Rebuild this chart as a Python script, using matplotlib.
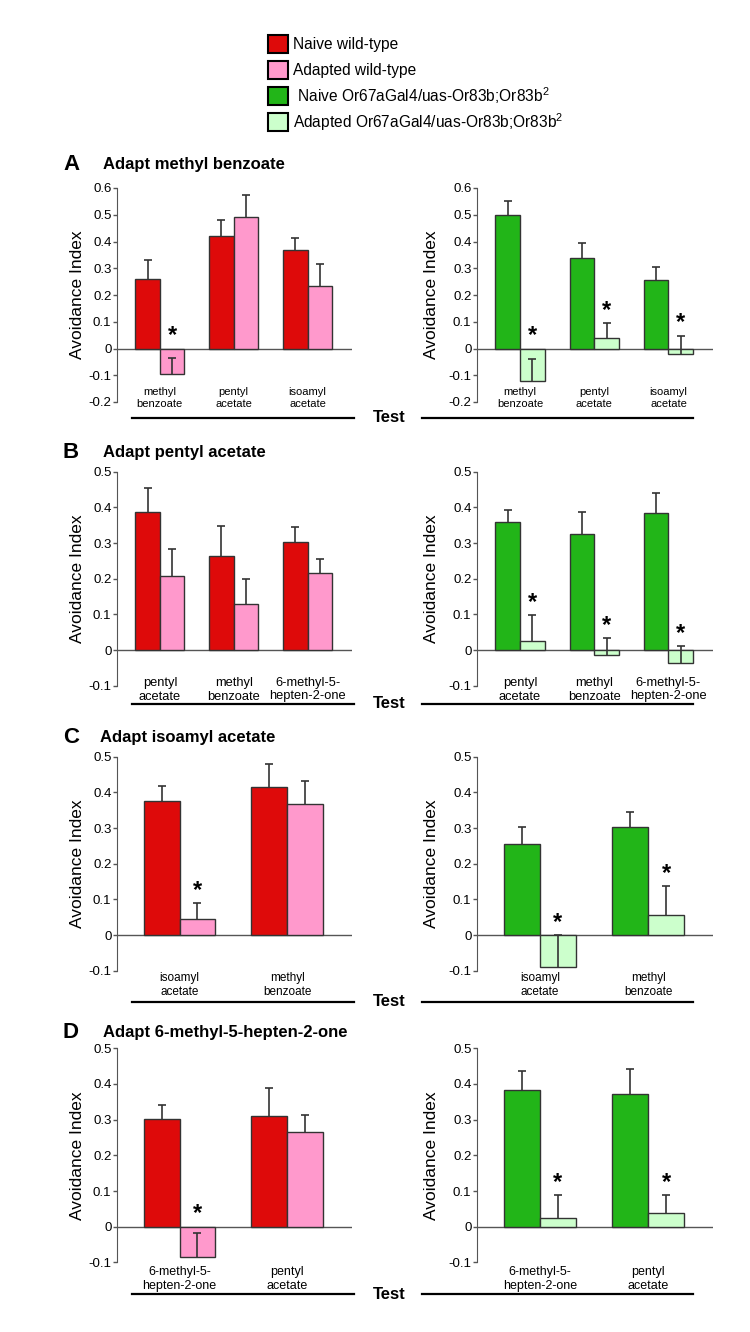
import matplotlib
matplotlib.use('Agg')
import matplotlib.pyplot as plt
from matplotlib.patches import Rectangle
import numpy as np

plt.rcParams['font.family'] = ['Liberation Sans', 'DejaVu Sans']
plt.rcParams['mathtext.fontset'] = 'custom'
plt.rcParams['mathtext.rm'] = 'Liberation Sans'
plt.rcParams['axes.unicode_minus'] = False

# ---- data (avoidance index, mean and upper SEM) ----
titles = ['Adapt methyl benzoate', 'Adapt pentyl acetate',
          'Adapt isoamyl acetate', 'Adapt 6-methyl-5-hepten-2-one']
letters = ['A', 'B', 'C', 'D']

tests_A = ['methyl\nbenzoate', 'pentyl\nacetate', 'isoamyl\nacetate']
wt_naive_A = [0.26, 0.42, 0.37]
wt_naive_err_A = [0.07, 0.06, 0.042]
wt_adapt_A = [-0.095, 0.49, 0.235]
wt_adapt_err_A = [0.06, 0.085, 0.08]
mut_naive_A = [0.50, 0.34, 0.255]
mut_naive_err_A = [0.05, 0.055, 0.05]
mut_adapt_A = [-0.12, 0.038, -0.02]
mut_adapt_err_A = [0.082, 0.056, 0.068]
stars_wt_A = [True, False, False]
stars_mut_A = [True, True, True]

tests_B = ['pentyl\nacetate', 'methyl\nbenzoate', '6-methyl-5-\nhepten-2-one']
wt_naive_B = [0.388, 0.265, 0.302]
wt_naive_err_B = [0.067, 0.082, 0.042]
wt_adapt_B = [0.207, 0.128, 0.215]
wt_adapt_err_B = [0.076, 0.072, 0.04]
mut_naive_B = [0.36, 0.324, 0.385]
mut_naive_err_B = [0.032, 0.063, 0.054]
mut_adapt_B = [0.024, -0.014, -0.035]
mut_adapt_err_B = [0.074, 0.048, 0.045]
stars_wt_B = [False, False, False]
stars_mut_B = [True, True, True]

tests_C = ['isoamyl\nacetate', 'methyl\nbenzoate']
wt_naive_C = [0.376, 0.416]
wt_naive_err_C = [0.042, 0.063]
wt_adapt_C = [0.044, 0.366]
wt_adapt_err_C = [0.046, 0.066]
mut_naive_C = [0.254, 0.304]
mut_naive_err_C = [0.05, 0.041]
mut_adapt_C = [-0.09, 0.056]
mut_adapt_err_C = [0.09, 0.081]
stars_wt_C = [True, False]
stars_mut_C = [True, True]

tests_D = ['6-methyl-5-\nhepten-2-one', 'pentyl\nacetate']
wt_naive_D = [0.303, 0.31]
wt_naive_err_D = [0.039, 0.078]
wt_adapt_D = [-0.085, 0.265]
wt_adapt_err_D = [0.066, 0.049]
mut_naive_D = [0.383, 0.372]
mut_naive_err_D = [0.054, 0.071]
mut_adapt_D = [0.025, 0.039]
mut_adapt_err_D = [0.064, 0.05]
stars_wt_D = [True, False]
stars_mut_D = [True, True]

ylims = [(-0.2, 0.6), (-0.1, 0.5), (-0.1, 0.5), (-0.1, 0.5)]

legend_labels = ['Naive wild-type', 'Adapted wild-type',
                 ' Naive Or67aGal4/uas-Or83b;Or83b$^2$',
                 'Adapted Or67aGal4/uas-Or83b;Or83b$^2$']

# ---- style ----
RED, PINK = '#DE0A0A', '#FF99CC'
GREEN, LGREEN = '#22B518', '#CCFFCC'
EDGE = '#333333'
W, H = 750, 1332

rows = [
    (tests_A, wt_naive_A, wt_naive_err_A, wt_adapt_A, wt_adapt_err_A,
     mut_naive_A, mut_naive_err_A, mut_adapt_A, mut_adapt_err_A, stars_wt_A, stars_mut_A),
    (tests_B, wt_naive_B, wt_naive_err_B, wt_adapt_B, wt_adapt_err_B,
     mut_naive_B, mut_naive_err_B, mut_adapt_B, mut_adapt_err_B, stars_wt_B, stars_mut_B),
    (tests_C, wt_naive_C, wt_naive_err_C, wt_adapt_C, wt_adapt_err_C,
     mut_naive_C, mut_naive_err_C, mut_adapt_C, mut_adapt_err_C, stars_wt_C, stars_mut_C),
    (tests_D, wt_naive_D, wt_naive_err_D, wt_adapt_D, wt_adapt_err_D,
     mut_naive_D, mut_naive_err_D, mut_adapt_D, mut_adapt_err_D, stars_wt_D, stars_mut_D),
]

# pixel layout per row: axes top/bottom, label offset/size, underline offset, title y
layout = [
    dict(ytop=188, ybot=402, lbl=-15, lfs=8, line=16, ty=164),
    dict(ytop=471.7, ybot=685.7, lbl=-9, lfs=9.3, line=18, ty=452),
    dict(ytop=756.7, ybot=970.7, lbl=1, lfs=8.5, line=31, ty=737),
    dict(ytop=1048.3, ybot=1262.4, lbl=4, lfs=9, line=32, ty=1032),
]
cols = [dict(x0=117, x1=352, ul0=131.7, ul1=354, test=True),
        dict(x0=477, x1=713, ul0=421.7, ul1=693.3, test=False)]

fig = plt.figure(figsize=(W / 100, H / 100), dpi=100)


def tick_fmt(v, pos):
    if abs(v) < 1e-9:
        return '0'
    return '%.1f' % v


def draw_panel(ax, tests, naive, naive_err, adapt, adapt_err, stars,
               c1, c2, ylim, lay, col):
    n = len(tests)
    x = np.arange(n)
    w = 1 / 3
    ax.bar(x - w / 2, naive, w, color=c1, edgecolor=EDGE, linewidth=1, zorder=2)
    ax.bar(x + w / 2, adapt, w, color=c2, edgecolor=EDGE, linewidth=1, zorder=2)
    for xs, vals, errs in [(x - w / 2, naive, naive_err), (x + w / 2, adapt, adapt_err)]:
        eb = ax.errorbar(xs, vals, yerr=[np.zeros(n), errs], fmt='none', ecolor=EDGE,
                         elinewidth=1.2, capsize=3, capthick=1.2, zorder=3)
        eb[1][0].set_visible(False)  # only the upper cap
    for i in range(n):
        if stars[i]:
            top = max(adapt[i] + adapt_err[i], 0)
            ax.annotate('*', xy=(i + w / 2, top), xytext=(0, 1),
                        textcoords='offset points', ha='center', va='bottom',
                        fontsize=17, fontweight='bold')
    ax.axhline(0, color='#555555', linewidth=1, zorder=1)
    ax.set_xlim(-0.58, n - 1 + 0.6)
    ax.set_ylim(*ylim)
    ax.set_yticks(np.round(np.arange(ylim[0], ylim[1] + 0.001, 0.1), 1))
    ax.yaxis.set_major_formatter(plt.FuncFormatter(tick_fmt))
    ax.tick_params(axis='y', direction='out', length=3, width=1,
                   color='#555555', labelsize=9.5, pad=1)
    ax.set_xticks([])
    for s in ['top', 'right', 'bottom']:
        ax.spines[s].set_visible(False)
    ax.spines['left'].set_color('#555555')
    ax.set_facecolor('none')
    ax.set_ylabel('Avoidance Index', fontsize=12.5)
    ax.yaxis.set_label_coords(-0.135 if col['test'] else -0.16, 0.5)
    for i, t in enumerate(tests):
        ax.annotate(t, xy=(i, 0), xycoords=('data', 'axes fraction'),
                    xytext=(0, -lay['lbl'] * 0.72), textcoords='offset points',
                    ha='center', va='top', fontsize=lay['lfs'], linespacing=1.2)
    # "Test" underline
    yl = 1 - (lay['ybot'] + lay['line']) / H
    fig.add_artist(plt.Line2D([col['ul0'] / W, col['ul1'] / W], [yl, yl],
                              color='black', linewidth=1.6))
    if col['test']:
        fig.text(373 / W, yl, 'Test', ha='left', va='center',
                 fontsize=12, fontweight='bold')


for r, (data, lay) in enumerate(zip(rows, layout)):
    (tests, wn, wne, wa, wae, mn, mne, ma, mae, sw, sm) = data
    for c, col in enumerate(cols):
        ax = fig.add_axes([col['x0'] / W, 1 - lay['ybot'] / H,
                           (col['x1'] - col['x0']) / W,
                           (lay['ybot'] - lay['ytop']) / H])
        if c == 0:
            draw_panel(ax, tests, wn, wne, wa, wae, sw, RED, PINK, ylims[r], lay, col)
        else:
            draw_panel(ax, tests, mn, mne, ma, mae, sm, GREEN, LGREEN, ylims[r], lay, col)
    fig.text(63 / W, 1 - lay['ty'] / H, letters[r], ha='left', va='center',
             fontsize=16, fontweight='bold')
    fig.text((100 if r == 2 else 103) / W, 1 - lay['ty'] / H, titles[r],
             ha='left', va='center', fontsize=12, fontweight='bold')

# legend drawn by hand so the rows are evenly spaced
for k, (fc, lab) in enumerate(zip([RED, PINK, GREEN, LGREEN], legend_labels)):
    yc = 44 + k * 26
    fig.add_artist(Rectangle((268 / W, 1 - (yc + 8.5) / H), 20 / W, 17 / H,
                             transform=fig.transFigure, facecolor=fc,
                             edgecolor='black', linewidth=1.5))
    fig.text(293 / W, 1 - yc / H, lab, ha='left', va='center', fontsize=11.2)

fig.savefig('out.png', dpi=100, facecolor='white')
